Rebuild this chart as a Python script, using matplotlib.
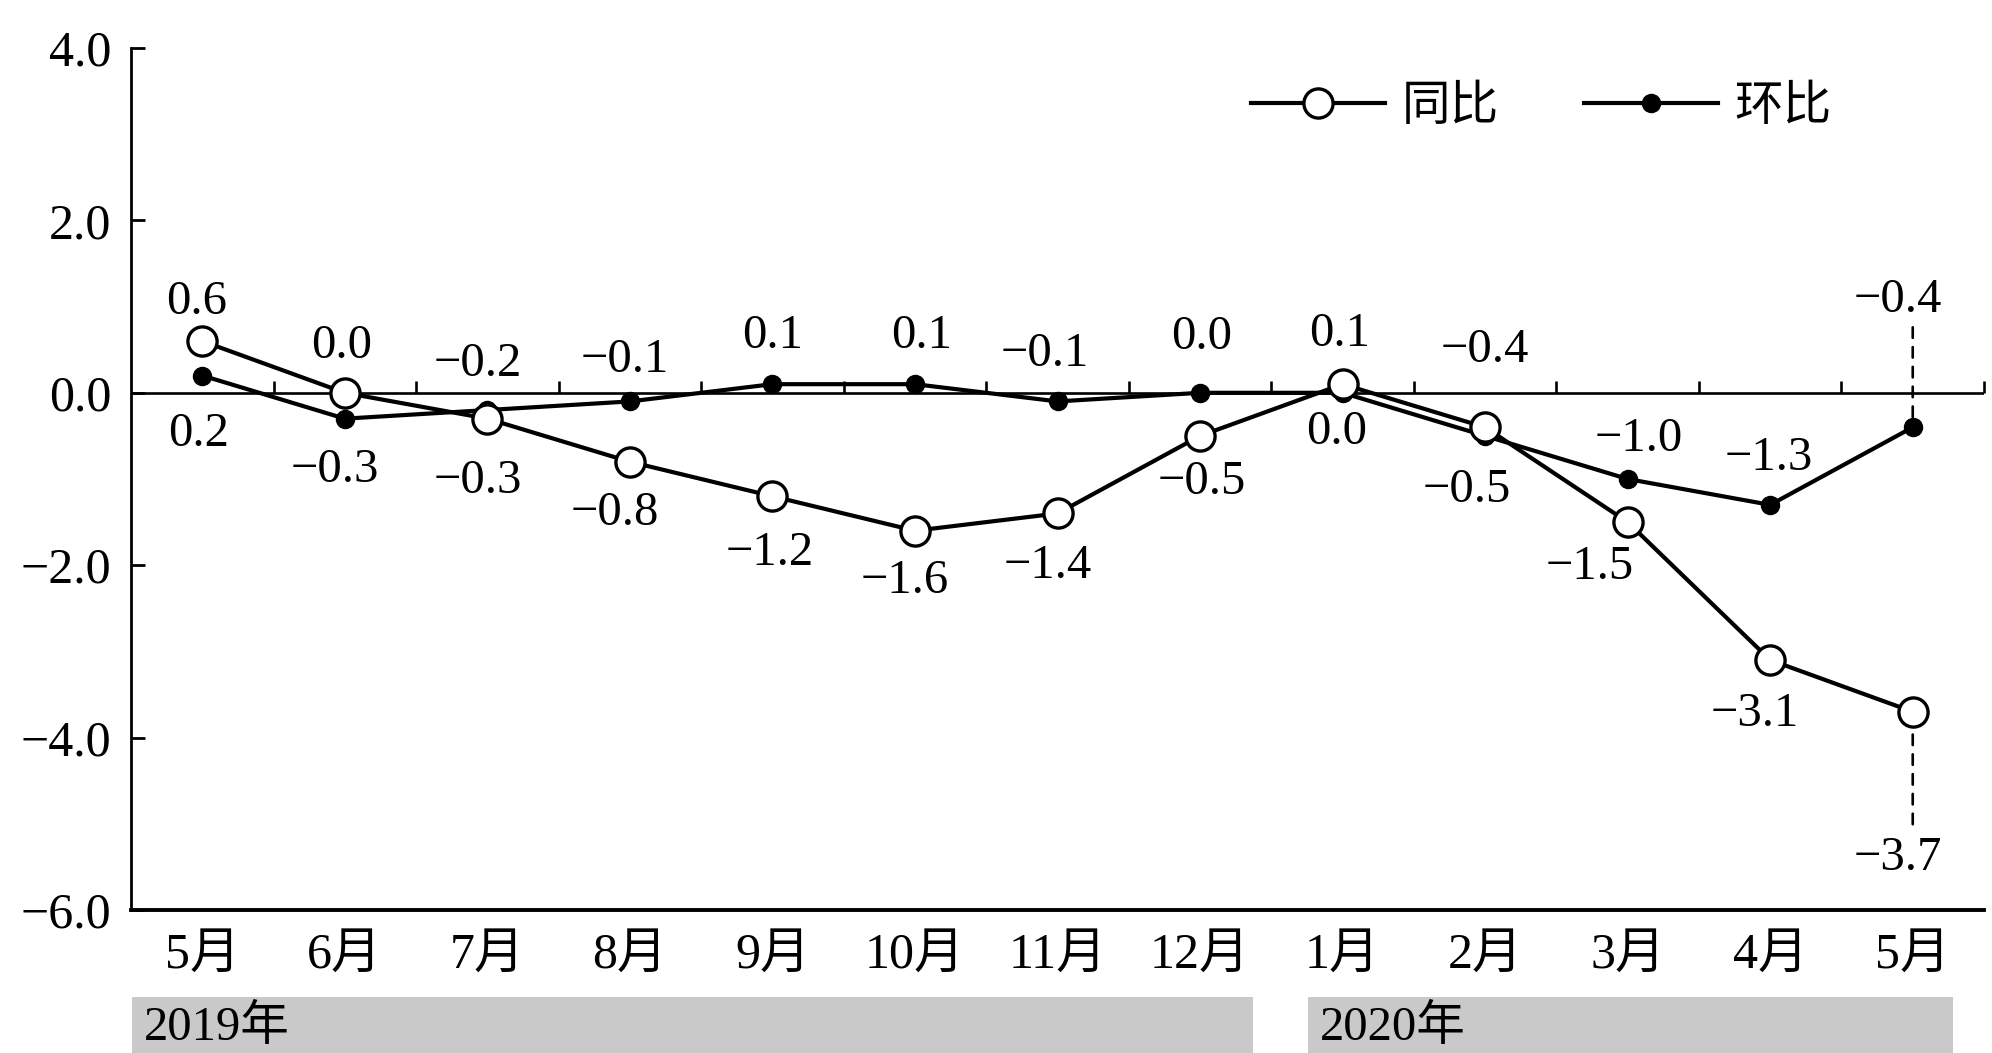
import numpy as np
import matplotlib
matplotlib.use("Agg")
import matplotlib.pyplot as plt
from matplotlib.lines import Line2D
from matplotlib.patches import Rectangle
from matplotlib.transforms import blended_transform_factory

plt.rcParams['font.family'] = ['Liberation Serif', 'Noto Sans CJK SC', 'DejaVu Sans']

# ---------------- data ----------------
months = ['5月', '6月', '7月', '8月', '9月', '10月', '11月', '12月',
          '1月', '2月', '3月', '4月', '5月']
years = ['2019年', '2020年']
year_of_month = [0, 0, 0, 0, 0, 0, 0, 0, 1, 1, 1, 1, 1]
yoy = [0.6, 0.0, -0.3, -0.8, -1.2, -1.6, -1.4, -0.5, 0.1, -0.4, -1.5, -3.1, -3.7]   # 同比
mom = [0.2, -0.3, -0.2, -0.1, 0.1, 0.1, -0.1, 0.0, 0.0, -0.5, -1.0, -1.3, -0.4]     # 环比
series_names = ['同比', '环比']
yticks = [4.0, 2.0, 0.0, -2.0, -4.0, -6.0]

# which series carries the label above the points ('yoy' or 'mom')
label_above = ['yoy', 'yoy', 'mom', 'mom', 'mom', 'mom', 'mom', 'mom',
               'yoy', 'yoy', 'mom', 'mom', 'mom']

# ---------------- layout (label offsets in points) ----------------
above_off = [(-4, 28), (-2, 34), (-7, 33), (-4, 30), (0, 35), (5, 35), (-9, 34),
             (1, 40), (-2, 36), (0, 56), (8, 29), (-1, 34), (-11, 92)]
below_off = [(-3, -42), (-7, -37), (-7, -45), (-11, -37), (-2, -41), (-7, -36),
             (-7, -38), (1, -33), (-4, -28), (-13, -39), (-27, -32), (-11, -39),
             (-11, -105)]

def fmt(v):
    return f"{v:.1f}".replace('-', '\u2212')

W, H = 1992, 1053
fig = plt.figure(figsize=(W / 100, H / 100), dpi=100)
ax = fig.add_axes([131 / W, 1 - 910 / H, (1984 - 131) / W, (910 - 48) / H])

x = np.arange(len(months))
lw = 3.0

ax.plot(x, mom, color='black', lw=lw, marker='o', ms=13, mfc='black',
        mec='black', zorder=3)
ax.plot(x, yoy, color='black', lw=lw, marker='o', ms=21, mfc='white',
        mec='black', mew=2.4, zorder=4)

ax.set_xlim(-0.5, len(months) - 0.5)
ax.set_ylim(-6, 4)

# zero line with small upward ticks at category boundaries
ax.axhline(0, color='black', lw=1.9, zorder=2)
bounds = x + 0.5
ax.plot(bounds, np.zeros_like(bounds, dtype=float), linestyle='none',
        marker=2, ms=9, mew=1.9, color='black', zorder=2, clip_on=False)

# spines
for s in ['top', 'right']:
    ax.spines[s].set_visible(False)
ax.spines['left'].set_linewidth(2.0)
ax.spines['bottom'].set_linewidth(2.8)

ax.set_yticks(yticks)
ax.set_yticklabels([fmt(v) for v in yticks], fontsize=36)
ax.tick_params(axis='y', direction='in', length=10, width=2.0, pad=14)
ax.set_xticks(x)
ax.set_xticklabels(months, fontsize=36)
ax.tick_params(axis='x', length=0, pad=16)

# data labels
n = len(months)
for i in range(n):
    if label_above[i] == 'yoy':
        va, vb = yoy[i], mom[i]
    else:
        va, vb = mom[i], yoy[i]
    ax.annotate(fmt(va), xy=(x[i], va), xytext=above_off[i],
                textcoords='offset points', ha='center', va='center',
                fontsize=35, zorder=5)
    ax.annotate(fmt(vb), xy=(x[i], vb), xytext=below_off[i],
                textcoords='offset points', ha='center', va='center',
                fontsize=35, zorder=5)

# vertical dashed leader lines for the latest month
dash = dict(arrowstyle='-', ls=(0, (4, 3.5)), lw=1.9, color='black')
ax.annotate('', xy=(x[-1], mom[-1]), xytext=(0, above_off[-1][1] - 20),
            textcoords='offset points', arrowprops=dict(**dash, shrinkA=0, shrinkB=7))
ax.annotate('', xy=(x[-1], yoy[-1]), xytext=(0, below_off[-1][1] + 24),
            textcoords='offset points', arrowprops=dict(**dash, shrinkA=0, shrinkB=12))

# legend
handles = [Line2D([], [], color='black', lw=lw, marker='o', ms=21, mfc='white',
                  mec='black', mew=2.4),
           Line2D([], [], color='black', lw=lw, marker='o', ms=13, mfc='black',
                  mec='black')]
leg = fig.legend(handles, series_names, loc='center left',
                 bbox_to_anchor=(1251 / W, 1 - 108 / H), ncol=2, frameon=False,
                 fontsize=35, handlelength=2.75, handletextpad=0.35,
                 columnspacing=1.75, borderaxespad=0, borderpad=0)

# year bands below the month labels
trans = blended_transform_factory(ax.transData, fig.transFigure)
band_top = 1 - 997 / H
for yi, yname in enumerate(years):
    idx = [i for i, g in enumerate(year_of_month) if g == yi]
    left = idx[0] - 0.5 + (0.01 if yi == 0 else 0.26)
    right = idx[-1] + (0.37 if yi == 0 else 0.28)
    ax.add_patch(Rectangle((left, 0), right - left, band_top, transform=trans,
                           facecolor='#c9c9c9', edgecolor='none', clip_on=False,
                           zorder=0))
    ax.text(left + 0.08, band_top / 2 - 0.002, yname, transform=trans,
            ha='left', va='center', fontsize=35, clip_on=False)

fig.savefig('out.png', dpi=100)
